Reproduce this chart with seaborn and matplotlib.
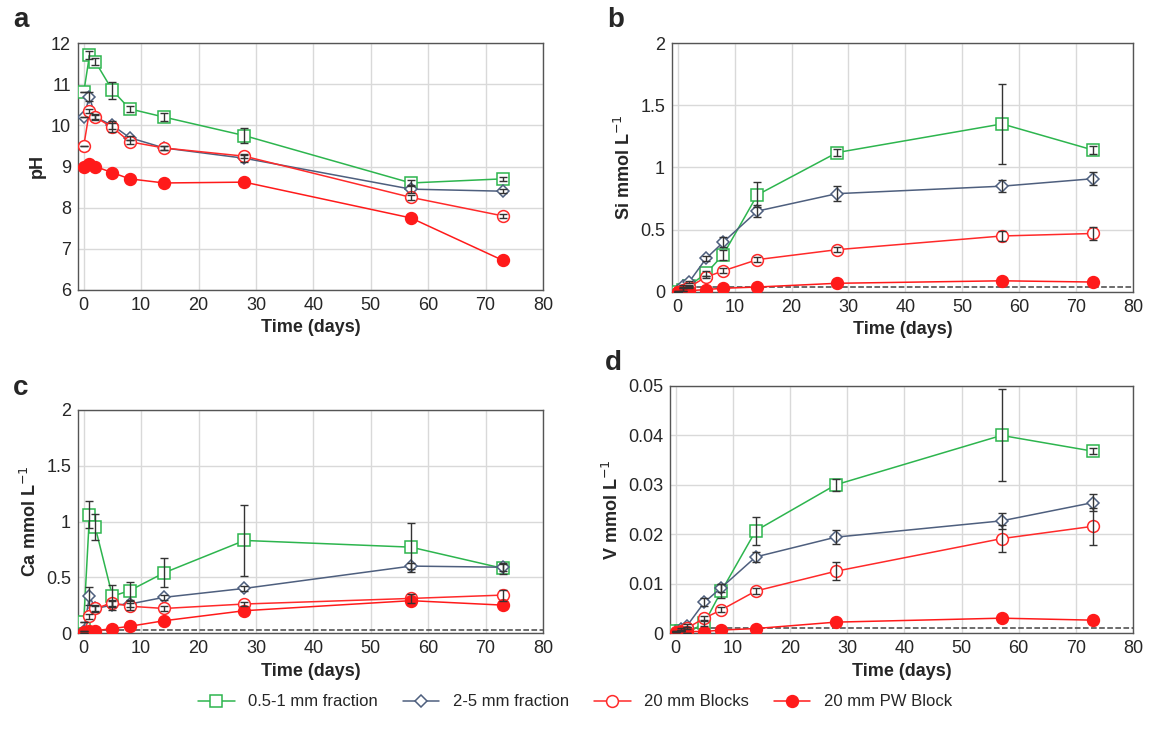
import numpy as np
import pandas as pd
import matplotlib
matplotlib.use('Agg')
import matplotlib.pyplot as plt
import seaborn as sns

days = [0, 1, 2, 5, 8, 14, 28, 57, 73]
series_names = ['0.5-1 mm fraction', '2-5 mm fraction', '20 mm Blocks', '20 mm PW Block']

ph_fine = [10.8, 11.7, 11.55, 10.85, 10.4, 10.2, 9.75, 8.6, 8.7]
ph_coarse = [10.2, 10.7, 10.2, 10.0, 9.7, 9.45, 9.2, 8.45, 8.4]
ph_blocks = [9.5, 10.35, 10.2, 9.95, 9.6, 9.45, 9.25, 8.25, 7.8]
ph_pw = [9.0, 9.05, 9.0, 8.85, 8.7, 8.6, 8.62, 7.75, 6.72]
ph_err_fine = [0, 0.1, 0.08, 0.2, 0.08, 0.1, 0.18, 0.08, 0.05]
ph_err_coarse = [0, 0.1, 0.08, 0.1, 0.05, 0.05, 0.08, 0.1, 0.05]
ph_err_blocks = [0, 0.05, 0.05, 0.1, 0.05, 0.05, 0.05, 0.06, 0.05]

si_fine = [0.0, 0.02, 0.05, 0.15, 0.3, 0.78, 1.12, 1.35, 1.14]
si_coarse = [0.01, 0.05, 0.08, 0.27, 0.4, 0.65, 0.79, 0.85, 0.91]
si_blocks = [0.0, 0.02, 0.04, 0.12, 0.17, 0.26, 0.34, 0.45, 0.47]
si_pw = [0.0, 0.01, 0.01, 0.02, 0.03, 0.04, 0.07, 0.09, 0.08]
si_err_fine = [0, 0.01, 0.01, 0.02, 0.04, 0.1, 0.03, 0.32, 0.03]
si_err_coarse = [0, 0.01, 0.01, 0.02, 0.04, 0.05, 0.06, 0.05, 0.05]
si_err_blocks = [0, 0.01, 0.01, 0.01, 0.02, 0.02, 0.02, 0.04, 0.05]
si_limit = 0.04

ca_fine = [0.1, 1.06, 0.95, 0.33, 0.38, 0.54, 0.83, 0.77, 0.58]
ca_coarse = [0.02, 0.33, 0.22, 0.25, 0.26, 0.32, 0.4, 0.6, 0.59]
ca_blocks = [0.0, 0.15, 0.22, 0.27, 0.24, 0.22, 0.26, 0.31, 0.34]
ca_pw = [0.01, 0.02, 0.02, 0.04, 0.06, 0.11, 0.2, 0.29, 0.25]
ca_err_fine = [0, 0.12, 0.12, 0.1, 0.08, 0.13, 0.32, 0.22, 0.05]
ca_err_coarse = [0, 0.08, 0.03, 0.04, 0.03, 0.02, 0.02, 0.03, 0.03]
ca_err_blocks = [0, 0.02, 0.02, 0.03, 0.03, 0.02, 0.02, 0.04, 0.05]
ca_limit = 0.025

v_fine = [0.0005, 0.0005, 0.0, 0.002, 0.0085, 0.0207, 0.030, 0.040, 0.0368]
v_coarse = [0.0003, 0.0008, 0.0015, 0.0062, 0.0092, 0.0154, 0.0194, 0.0227, 0.0264]
v_blocks = [0.0002, 0.0005, 0.001, 0.003, 0.0047, 0.0085, 0.0125, 0.0191, 0.0216]
v_pw = [0.0001, 0.0002, 0.0003, 0.0003, 0.0006, 0.0009, 0.0022, 0.003, 0.0026]
v_err_fine = [0, 0, 0, 0.0005, 0.0015, 0.0028, 0.0012, 0.0093, 0.0006]
v_err_coarse = [0, 0.0002, 0.0003, 0.0008, 0.0008, 0.001, 0.0014, 0.0016, 0.0017]
v_err_blocks = [0, 0.0001, 0.0002, 0.0004, 0.0005, 0.0006, 0.0018, 0.0028, 0.0037]
v_limit = 0.001

colors = ['#2db54e', '#4e5f7e', '#ff2a2a', '#ff1a1a']
markers = ['s', 'D', 'o', 'o']
fills = ['white', 'white', 'white', '#ff1a1a']
sizes = [8.5, 6.5, 8.5, 8.5]

sns.set_theme(style='whitegrid')
plt.rcParams['font.family'] = ['Arial', 'Liberation Sans', 'DejaVu Sans']

fig = plt.figure(figsize=(11.5, 7.41), dpi=100)
W, H = 1150, 741
boxes = [(78, 43, 543, 290), (672, 43, 1133, 292), (78, 410, 543, 633), (670, 386, 1133, 633)]
axes = [fig.add_axes([l / W, 1 - b / H, (r - l) / W, (b - t) / H]) for l, t, r, b in boxes]

panels = [
    ('a', 'pH', (6, 12), 1, [ph_fine, ph_coarse, ph_blocks, ph_pw],
     [ph_err_fine, ph_err_coarse, ph_err_blocks, None], None, lambda v: f'{v:g}'),
    ('b', 'Si mmol L$^{-1}$', (0, 2), 0.5, [si_fine, si_coarse, si_blocks, si_pw],
     [si_err_fine, si_err_coarse, si_err_blocks, None], si_limit, lambda v: f'{v:g}'),
    ('c', 'Ca mmol L$^{-1}$', (0, 2), 0.5, [ca_fine, ca_coarse, ca_blocks, ca_pw],
     [ca_err_fine, ca_err_coarse, ca_err_blocks, None], ca_limit, lambda v: f'{v:g}'),
    ('d', 'V mmol L$^{-1}$', (0, 0.05), 0.01, [v_fine, v_coarse, v_blocks, v_pw],
     [v_err_fine, v_err_coarse, v_err_blocks, None], v_limit, lambda v: '0' if v == 0 else f'{v:.2f}'),
]

for ax, (letter, ylabel, ylim, step, data, errs, limit, fmt) in zip(axes, panels):
    for i, (vals, err) in enumerate(zip(data, errs)):
        df = pd.DataFrame({'days': days, 'value': vals})
        sns.lineplot(data=df, x='days', y='value', ax=ax, color=colors[i], marker=markers[i],
                     markersize=sizes[i], markerfacecolor=fills[i], markeredgecolor=colors[i],
                     markeredgewidth=1.1, linewidth=1.1, zorder=3, label=series_names[i], legend=False)
        if err is not None:
            ax.errorbar(days, vals, yerr=err, fmt='none', ecolor='#333333',
                        elinewidth=1, capsize=3, capthick=1, zorder=4)
    if limit is not None:
        ax.axhline(limit, color='#444444', linestyle='--', linewidth=1.1, zorder=1)
    ax.set_xlim(-1, 80)
    ax.set_ylim(*ylim)
    ax.set_xticks(range(0, 81, 10))
    yt = np.arange(ylim[0], ylim[1] + step / 2, step)
    ax.set_yticks(yt)
    ax.set_yticklabels([fmt(round(v, 4)) for v in yt])
    ax.set_xlabel('Time (days)', fontsize=13, fontweight='bold')
    ax.set_ylabel(ylabel, fontsize=13, fontweight='bold')
    ax.tick_params(labelsize=13, length=0, pad=5)
    ax.grid(color='#d9d9d9', linewidth=1)
    for s in ax.spines.values():
        s.set_color('#555555')
        s.set_linewidth(1)
    ax.text(-0.14, 1.04, letter, transform=ax.transAxes, fontsize=20, fontweight='bold',
            ha='left', va='bottom')

handles, labels = axes[0].get_legend_handles_labels()
fig.legend(handles, labels, loc='center', bbox_to_anchor=(0.5, 1 - 702 / H), ncol=4,
           frameon=False, fontsize=12, handlelength=2.2, columnspacing=1.5)
fig.savefig('out.png', dpi=100, facecolor='white')
